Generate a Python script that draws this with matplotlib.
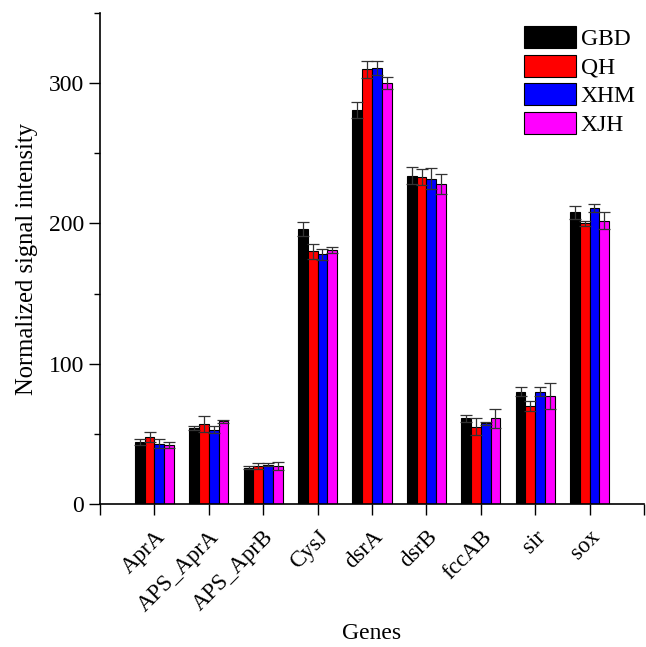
import numpy as np
import matplotlib
matplotlib.use("Agg")
import matplotlib.pyplot as plt
from matplotlib.ticker import MultipleLocator

plt.rcParams["font.family"] = ["Liberation Serif", "DejaVu Serif"]

genes = ["AprA", "APS_AprA", "APS_AprB", "CysJ", "dsrA", "dsrB", "fccAB", "sir", "sox"]
groups = ["GBD", "QH", "XHM", "XJH"]
colors = ["#000000", "#ff0000", "#0000ff", "#ff00ff"]

gbd = [44, 54, 26, 196, 281, 234, 61, 80, 208]
qh = [48, 57, 27, 180, 310, 233, 55, 70, 200]
xhm = [43, 53, 28, 178, 311, 232, 57.5, 80, 211]
xjh = [42, 59, 27, 181, 300, 228, 61, 77, 202]

gbd_err = [2, 1.5, 1, 5, 5.5, 6, 2.3, 3.3, 4.5]
qh_err = [3.5, 6, 2, 5, 6, 5.5, 6, 3.5, 2]
xhm_err = [3, 2.5, 1, 4, 5, 7.5, 1, 3.3, 3]
xjh_err = [2, 1, 3, 2, 4.5, 7, 6.5, 9, 6]

values = [gbd, qh, xhm, xjh]
errors = [gbd_err, qh_err, xhm_err, xjh_err]

W, H = 646, 647
fig = plt.figure(figsize=(W / 100, H / 100), dpi=100)
# axes box in pixels: left 100, right 644, top 13, bottom 504
ax = fig.add_axes([100 / W, 1 - 504 / H, 544 / W, 491 / H])

x = np.arange(1, len(genes) + 1)
width = 0.18

for i, (name, vals, errs, col) in enumerate(zip(groups, values, errors, colors)):
    pos = x + (i - 1.5) * width
    ax.bar(pos, vals, width, color=col, edgecolor="black", linewidth=0.8, label=name,
           yerr=errs, capsize=4, error_kw=dict(ecolor="#333333", elinewidth=0.9, capthick=0.9))

ax.set_xlim(0, 10)
ax.set_ylim(0, 350)
ax.set_xticks(np.arange(0, len(genes) + 2))
ax.set_xticklabels([""] + genes + [""], rotation=45, ha="right", rotation_mode="anchor", fontsize=16.5)
ax.yaxis.set_major_locator(MultipleLocator(100))
ax.yaxis.set_minor_locator(MultipleLocator(50))
ax.tick_params(axis="y", labelsize=17, length=8, width=1)
ax.tick_params(axis="y", which="minor", length=4, width=1)
ax.tick_params(axis="x", length=8, width=1, pad=8)

for side in ["top", "right"]:
    ax.spines[side].set_visible(False)
for side in ["left", "bottom"]:
    ax.spines[side].set_linewidth(1.2)

ax.set_ylabel("Normalized signal intensity", fontsize=17.7, labelpad=8)
ax.set_xlabel("Genes", fontsize=17, labelpad=5)

ax.legend(loc="upper left", bbox_to_anchor=(524 / W, 1 - 26 / H), bbox_transform=fig.transFigure,
          frameon=False, fontsize=17, borderpad=0, borderaxespad=0,
          handlelength=2.2, handleheight=1.05, handletextpad=0.2, labelspacing=0.2)

fig.savefig("out.png", dpi=100)
